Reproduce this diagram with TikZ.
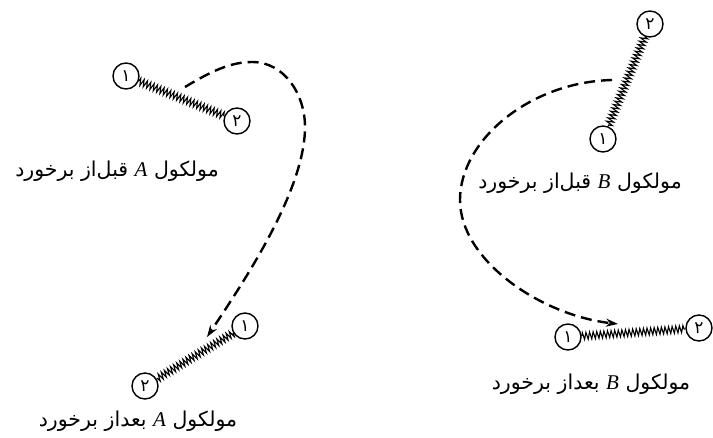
\documentclass[tikz,border=0pt]{standalone}
\usepackage{fontspec}
\usetikzlibrary{decorations.pathmorphing,arrows.meta}
\TeXXeTstate=1
\newfontfamily\fa[Script=Arabic]{DejaVu Sans}
\newfontfamily\lat{Liberation Serif}
\newcommand\latin[1]{\beginL{\lat\itshape\fontsize{21}{22}\selectfont #1}\endL{}}
\tikzset{
  atom/.style={circle,draw,line width=1.4pt,minimum size=26pt,inner sep=0pt,font=\fa\fontsize{17}{17}\selectfont},
  spring/.style={line width=1.1pt,decorate,decoration={zigzag,segment length=3.6pt,amplitude=3.5pt}},
  path/.style={line width=2.4pt,dash pattern=on 11pt off 6pt,-{Stealth[length=12pt,width=8pt]}},
  lbl/.style={font=\fa\fontsize{20.5}{24}\selectfont,inner sep=0pt}
}
\begin{document}
\begin{tikzpicture}[x=1pt,y=-1pt]
\useasboundingbox (0,0) rectangle (713,437);
% molecule A before
\node[atom] (a1) at (126,76) {۱};
\node[atom] (a2) at (237,121) {۲};
\draw[spring] (a1) -- (a2);
\node[lbl] (la) at (117,171) {\beginR مولکول \latin{A} قبل‌از برخورد\endR};
% molecule A after
\node[atom] (c1) at (245,326) {۱};
\node[atom] (c2) at (145,386) {۲};
\draw[spring] (c1) -- (c2);
\node[lbl] (lc) at (138,421) {\beginR مولکول \latin{A} بعداز برخورد\endR};
% molecule B before
\node[atom] (b2) at (650,24) {۲};
\node[atom] (b1) at (603,139) {۱};
\draw[spring] (b2) -- (b1);
\node[lbl] (lb) at (580,183) {\beginR مولکول \latin{B} قبل‌از برخورد\endR};
% molecule B after
\node[atom] (d1) at (568,337) {۱};
\node[atom] (d2) at (699,328) {۲};
\draw[spring] (d1) -- (d2);
\node[lbl] (ld) at (591,384) {\beginR مولکول \latin{B} بعداز برخورد\endR};
% trajectories
\coordinate (sa) at (185,87);
\coordinate (ta) at (252,62);
\coordinate (ra) at (305,127);
\coordinate (ea) at (207,337);
\draw[path] (sa) .. controls (210,72) and (230,62) .. (ta)
  .. controls (285,62) and (305,95) .. (ra)
  .. controls (305,190) and (245,280) .. (ea);
\coordinate (sb) at (612,80);
\coordinate (mb) at (460,200);
\coordinate (eb) at (618,324);
\draw[path] (sb) .. controls (530,82) and (460,140) .. (mb)
  .. controls (460,260) and (540,315) .. (eb);
\end{tikzpicture}
\end{document}
